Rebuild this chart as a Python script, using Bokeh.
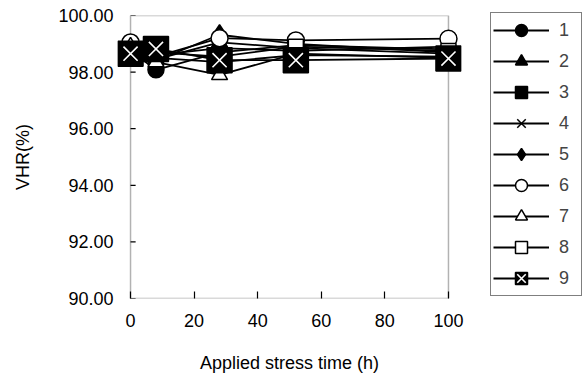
from bokeh.plotting import figure
from bokeh.models import Legend, LegendItem, FixedTicker, NumeralTickFormatter, Range1d, BoxAnnotation
from bokeh.embed import file_html
from bokeh.resources import INLINE

# ---- data ----
times = [0, 8, 28, 52, 100]
labels = ["1", "2", "3", "4", "5", "6", "7", "8", "9"]
s1 = [98.75, 98.08, 98.70, 98.95, 98.80]
s2 = [98.70, 98.45, 99.05, 98.85, 98.65]
s3 = [98.55, 98.50, 98.35, 98.60, 98.55]
s4 = [98.80, 98.60, 98.85, 98.75, 98.90]
s5 = [98.65, 98.40, 99.32, 99.00, 98.70]
s6 = [99.05, 98.55, 99.20, 99.12, 99.18]
s7 = [98.90, 98.35, 97.90, 98.65, 98.50]
s8 = [98.60, 98.70, 98.55, 98.90, 98.75]
s9 = [98.65, 98.82, 98.42, 98.42, 98.48]
series = [s1, s2, s3, s4, s5, s6, s7, s8, s9]
x_ticks = [0, 20, 40, 60, 80, 100]
y_ticks = [90, 92, 94, 96, 98, 100]
x_min, x_max = 0, 100
y_min, y_max = 90, 100

FONT = "Liberation Sans"
FS = "18px"

# horizontal padding so edge markers are not clipped by the frame
PAD = 4.1
p = figure(frame_width=344, frame_height=283,
           min_border_left=117, min_border_top=15, min_border_right=126, min_border_bottom=72,
           x_range=Range1d(x_min - PAD, x_max + PAD), y_range=Range1d(y_min, y_max),
           output_backend="svg", toolbar_location=None, tools="")
p.background_fill_color = "white"
p.border_fill_color = "white"
p.outline_line_color = None
p.grid.visible = False

# plot box drawn over the data range
p.add_layout(BoxAnnotation(left=x_min, right=x_max, bottom=y_min, top=y_max,
                           fill_color=None, fill_alpha=0, line_color="black",
                           line_width=1.5, level="underlay"))

for ax in (p.xaxis[0], p.yaxis[0]):
    ax.axis_line_color = None
    ax.major_tick_line_color = "black"
    ax.major_tick_line_width = 1.2
    ax.major_tick_out = 0
    ax.minor_tick_line_color = None
    ax.major_label_text_font = FONT
    ax.major_label_text_font_size = FS
    ax.major_label_text_color = "black"
    ax.axis_label_text_font = FONT
    ax.axis_label_text_font_size = FS
    ax.axis_label_text_font_style = "normal"
    ax.axis_label_text_color = "black"

p.xaxis.ticker = FixedTicker(ticks=x_ticks)
p.xaxis.major_tick_in = 7
p.xaxis.major_label_standoff = 15
p.xaxis.axis_label = "Applied stress time (h)"
p.xaxis.axis_label_standoff = 23

p.yaxis.ticker = FixedTicker(ticks=y_ticks)
p.yaxis.formatter = NumeralTickFormatter(format="0.00")
p.yaxis.major_tick_in = 0
p.yaxis.major_label_standoff = 4
p.yaxis.axis_label = "VHR(%)"
p.yaxis.axis_label_standoff = 22

# inward y ticks on the box's left edge (length ~5px)
p.segment(x0=[x_min] * len(y_ticks), x1=[x_min + 1.6] * len(y_ticks),
          y0=y_ticks, y1=y_ticks, line_color="black", line_width=1.2)

styles = [
    dict(marker="circle", fill_color="black", size=16),
    dict(marker="triangle", fill_color="black", size=16),
    dict(marker="square", fill_color="black", size=15),
    dict(marker="x", fill_color="black", size=16),
    dict(marker="diamond", fill_color="black", size=20),
    dict(marker="circle", fill_color="white", size=17),
    dict(marker="triangle", fill_color="white", size=16),
    dict(marker="square", fill_color="white", size=15),
]

items = []
for i, ys in enumerate(series):
    lr = p.line(times, ys, line_color="black", line_width=1.8)
    if i < 8:
        st = styles[i]
        sr = p.scatter(times, ys, marker=st["marker"], size=st["size"],
                       fill_color=st["fill_color"], line_color="black", line_width=1.5)
        rends = [lr, sr]
    else:
        sq = p.scatter(times, ys, marker="square", size=25, fill_color="black",
                       line_color="black", line_width=1.5)
        xm = p.scatter(times, ys, marker="x", size=20, line_color="white", line_width=1.6)
        rends = [lr, sq, xm]
    items.append(LegendItem(label=labels[i], renderers=rends))

legend = Legend(items=items, location=(29, 2),
                border_line_color="black", border_line_width=1,
                background_fill_color="white", background_fill_alpha=1,
                label_text_font=FONT, label_text_font_size=FS,
                label_standoff=10, glyph_width=56, glyph_height=30,
                label_width=20, label_height=30,
                spacing=1, padding=2, margin=0)
p.add_layout(legend, "right")

open("out.html", "w").write(file_html(p, INLINE))
